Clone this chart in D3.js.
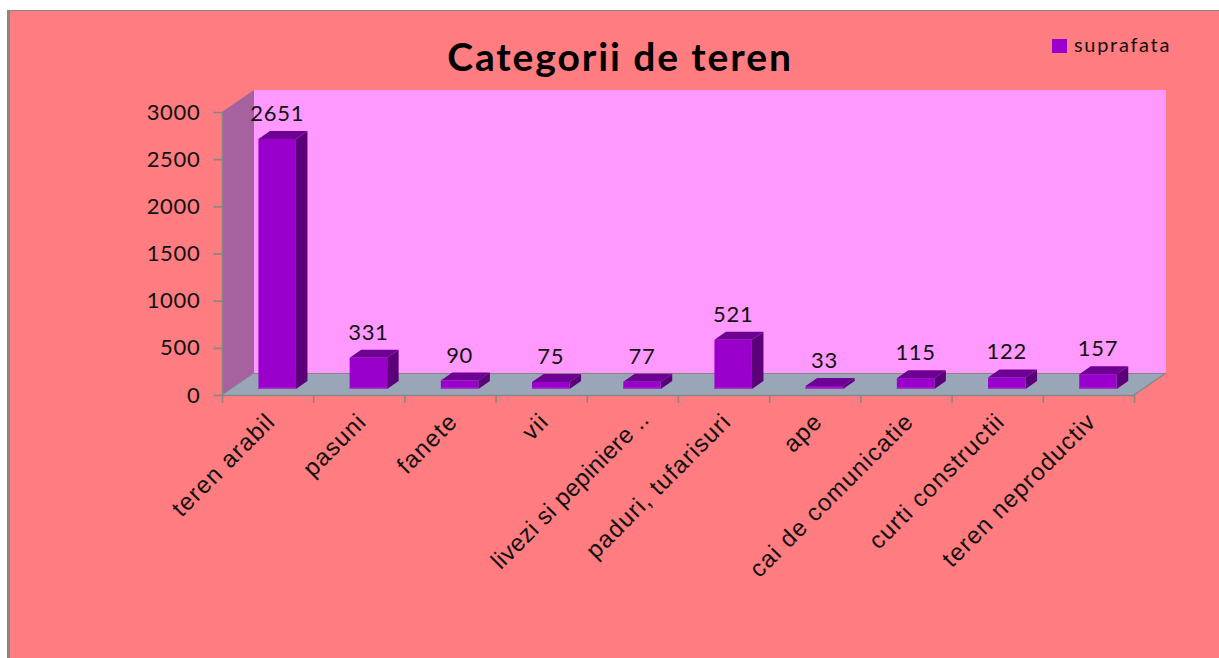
<!DOCTYPE html>
<html><head><meta charset="utf-8">
<script src="https://cdnjs.cloudflare.com/ajax/libs/d3/7.8.5/d3.min.js"></script>
<style>html,body{margin:0;padding:0;background:#fff;overflow:hidden}svg{display:block}</style>
</head><body><svg id="c" width="1219" height="658"></svg>
<script>
const categories=["teren arabil","pasuni","fanete","vii","livezi si pepiniere ..","paduri, tufarisuri","ape","cai de comunicatie","curti constructii","teren neproductiv"];
const suprafata=[2651,331,90,75,77,521,33,115,122,157];
const yTicks=[0,500,1000,1500,2000,2500,3000];
const titleText="Categorii de teren";
const seriesName="suprafata";

const svg=d3.select("#c");
const x0=222,x1=1134,yB=395,yT=112,dx=32,dy=22;
const x=d3.scaleBand().domain(categories).range([x0,x1]);
const y=d3.scaleLinear().domain([0,3000]).range([yB,yT]);
const poly=p=>p.map(a=>a.join(",")).join(" ");
const C={bg:"#FF7C80",wall:"#FF99FF",side:"#A6619F",floor:"#98A6B8",axis:"#868686",front:"#9900CC",sideB:"#5C007A",top:"#6F0094",edge:"#A633C0"};

svg.append("rect").attr("x",8.5).attr("y",10.5).attr("width",1215).attr("height",652).attr("fill",C.bg).attr("stroke",C.axis).attr("stroke-width",1);
svg.append("rect").attr("x",7).attr("y",10).attr("width",3).attr("height",648).attr("fill",C.axis);

// walls
svg.append("rect").attr("x",x0+dx).attr("y",yT-dy).attr("width",x1-x0).attr("height",yB-yT).attr("fill",C.wall);
svg.append("polygon").attr("points",poly([[x0,yB],[x0+dx,yB-dy],[x0+dx,yT-dy],[x0,yT]])).attr("fill",C.side);
svg.append("polygon").attr("points",poly([[x0,yB],[x0+dx,yB-dy],[x1+dx,yB-dy],[x1,yB]])).attr("fill",C.floor);
svg.append("line").attr("x1",x0+dx).attr("x2",x1+dx).attr("y1",yB-dy+.5).attr("y2",yB-dy+.5).attr("stroke",C.axis).attr("stroke-width",1);
svg.append("line").attr("x1",x1).attr("x2",x1+dx).attr("y1",yB).attr("y2",yB-dy).attr("stroke",C.axis).attr("stroke-width",1.5);
svg.append("line").attr("x1",x0).attr("x2",x0+dx).attr("y1",yB).attr("y2",yB-dy).attr("stroke",C.axis).attr("stroke-width",1);

// axes
const yAxis=d3.axisLeft(y).tickValues(yTicks).tickSize(9).tickPadding(13).tickFormat(d3.format("d"));
const ga=svg.append("g").attr("transform",`translate(${x0+.5},0)`).call(yAxis);
ga.selectAll("path,line").attr("stroke",C.axis).attr("stroke-width",1.6);
ga.select("path").attr("d",`M0,${yT}V${yB}`);
ga.selectAll("text").attr("font-family","Lato,sans-serif").attr("font-size",22).attr("fill","#111").attr("letter-spacing",.7);

const xAxis=d3.axisBottom(x).tickSize(0).tickFormat("");
const gx=svg.append("g").attr("transform",`translate(0,${yB+.5})`).call(xAxis);
gx.select("path").attr("stroke",C.axis).attr("stroke-width",1.6).attr("d",`M${x0},0H${x1}`);
gx.selectAll(".tick").remove();
const bounds=categories.map(c=>x(c)).concat([x1]);
svg.append("g").selectAll("line").data(bounds).join("line")
  .attr("x1",d=>d+.5).attr("x2",d=>d+.5).attr("y1",yB).attr("y2",yB+8).attr("stroke",C.axis).attr("stroke-width",1.6);

// bars
const bw=37.5,ox=9.6,oy=6,bdx=11.5,bdy=8;
const g=svg.append("g").selectAll("g").data(categories.map((c,i)=>({c,v:suprafata[i]}))).join("g");
const L=d=>x(d.c)+x.bandwidth()/2+ox-bw/2, R=d=>L(d)+bw, B=()=>yB-oy, T=d=>y(d.v)-oy;
g.append("polygon").attr("fill",C.sideB).attr("points",d=>poly([[R(d),B()],[R(d)+bdx,B()-bdy],[R(d)+bdx,T(d)-bdy],[R(d),T(d)]]));
g.append("polygon").attr("fill",C.top).attr("points",d=>poly([[L(d),T(d)],[L(d)+bdx,T(d)-bdy],[R(d)+bdx,T(d)-bdy],[R(d),T(d)]]));
g.append("rect").attr("x",L).attr("y",T).attr("width",bw).attr("height",d=>B()-T(d)).attr("fill",C.front);
g.append("rect").attr("x",L).attr("y",B()-1.5).attr("width",bw).attr("height",1.5).attr("fill",C.edge);
g.append("text").attr("x",d=>L(d)+bw/2).attr("y",d=>T(d)-bdy-10).attr("text-anchor","middle")
  .attr("font-family","Lato,sans-serif").attr("font-size",22).attr("letter-spacing",.7).attr("fill","#111").text(d=>d.v);

// category labels (the truncated label sits further along its slope and is set tighter)
const isCut=c=>c.endsWith("..");
svg.append("g").selectAll("text").data(categories).join("text")
  .attr("transform",c=>`translate(${x(c)+x.bandwidth()/2+(isCut(c)?18:9)},${isCut(c)?421:423}) rotate(-45)`)
  .attr("text-anchor","end").attr("font-family","'Liberation Sans',Arial,sans-serif").attr("font-size",24)
  .attr("letter-spacing",c=>isCut(c)?.4:1.2).attr("fill","#111").text(c=>c);

// title, legend
svg.append("text").attr("x",620).attr("y",71).attr("text-anchor","middle").attr("font-family","Lato,sans-serif").attr("font-weight",700).attr("font-size",39).attr("letter-spacing",1.9).attr("fill","#000").text(titleText);
svg.append("rect").attr("x",1052).attr("y",39).attr("width",15).attr("height",14).attr("fill",C.front);
svg.append("text").attr("x",1074).attr("y",52).attr("font-family","Lato,sans-serif").attr("font-size",20).attr("letter-spacing",1.7).attr("fill","#111").text(seriesName);
</script></body></html>
